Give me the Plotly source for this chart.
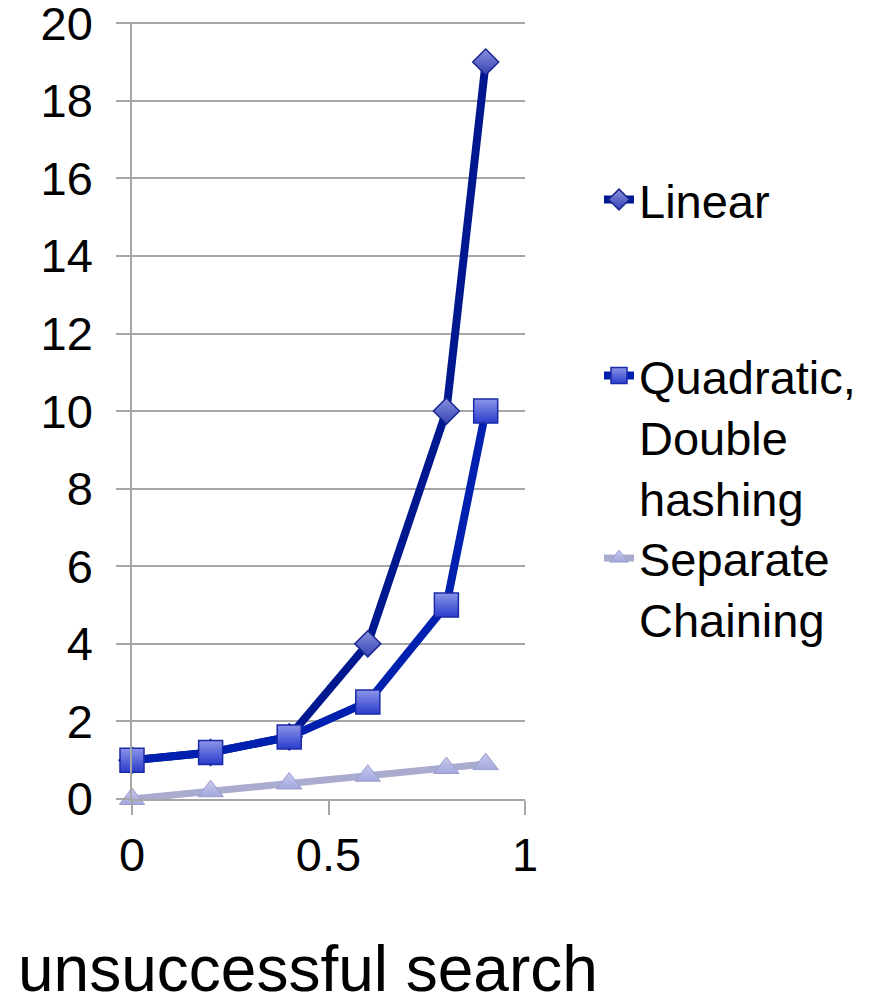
import plotly.graph_objects as go

load_factor = [0, 0.2, 0.4, 0.6, 0.8, 0.9]
linear = [1, 1.2, 1.6, 4, 10, 19]
quadratic = [1, 1.2, 1.6, 2.5, 5, 10]
separate = [0, 0.2, 0.4, 0.6, 0.8, 0.9]

names = ["Linear", "Quadratic,<br>Double<br>hashing", "Separate<br>Chaining"]
x_ticks = [0, 0.5, 1]
x_tick_text = ["0", "0.5", "1"]
y_ticks = [0, 2, 4, 6, 8, 10, 12, 14, 16, 18, 20]
title_text = "unsuccessful search"

FONT = "Liberation Sans, Arial, Helvetica, sans-serif"
OFF = 8  # page body margin
W, H = 872 - OFF, 997 - OFF
# plot area in screen pixels: x 132..525, y 22..799
L = 132 - OFF
T = 22 - OFF
R = W - (525 - OFF)
B = H - (799 - OFF)

fig = go.Figure()

fig.add_trace(go.Scatter(
    x=load_factor, y=linear, name=names[0], mode="lines+markers",
    line=dict(color="#00188f", width=8),
    marker=dict(symbol="diamond", size=20, color="#8a92dc",
                gradient=dict(type="vertical", color="#3442b4"),
                line=dict(color="#1a2590", width=1.5)),
    cliponaxis=False, legend="legend", showlegend=True,
))
fig.add_trace(go.Scatter(
    x=load_factor, y=quadratic, name=names[1], mode="lines+markers",
    line=dict(color="#0020b0", width=8),
    marker=dict(symbol="square", size=24, color="#8c95e8",
                gradient=dict(type="vertical", color="#2a3ccc"),
                line=dict(color="#1a2aa8", width=1.5)),
    cliponaxis=False, legend="legend2", showlegend=True,
))
fig.add_trace(go.Scatter(
    x=load_factor, y=separate, name=names[2], mode="lines+markers",
    line=dict(color="#a9abcf", width=7),
    marker=dict(symbol="triangle-up", size=22, color="#c8caf0",
                gradient=dict(type="vertical", color="#a4a7dc"),
                line=dict(color="#9a9dcc", width=1)),
    cliponaxis=False, legend="legend3", showlegend=True,
))

def py(screen):
    return 1 - (screen - OFF - T) / (H - T - B)

def px(screen):
    return (screen - OFF - L) / (W - L - R)

leg_common = dict(font=dict(family=FONT, size=47, color="#000000"),
                  bgcolor="rgba(0,0,0,0)", xanchor="left", yanchor="middle",
                  valign="top", itemwidth=30, visible=True)
LEGX = px(641 - 42)

fig.update_layout(
    width=W, height=H, showlegend=True,
    margin=dict(l=L, r=R, t=T, b=B, autoexpand=False),
    paper_bgcolor="white", plot_bgcolor="white",
    font=dict(family=FONT, size=47, color="#000000"),
    title=dict(text=title_text, font=dict(family=FONT, size=64, color="#000000"),
               x=(18 - OFF) / W, xanchor="left", xref="container",
               y=1 - (969 - OFF) / H, yanchor="middle", yref="container"),
    legend=dict(x=LEGX, y=py(200), **leg_common),
    legend2=dict(x=LEGX, y=py(437), **leg_common),
    legend3=dict(x=LEGX, y=py(589), **leg_common),
    xaxis=dict(range=[0, 1], tickmode="array", tickvals=x_ticks, ticktext=x_tick_text,
               showgrid=False, zeroline=False, showline=True,
               linecolor="#a6a6a6", linewidth=1.5,
               ticks="outside", ticklen=14, tickwidth=1.5, tickcolor="#a6a6a6",
               tickfont=dict(family=FONT, size=47, color="#000000")),
    yaxis=dict(range=[0, 20.03], tickmode="array", tickvals=y_ticks,
               showgrid=True, gridcolor="#a6a6a6",
               gridwidth=1.5, zeroline=False, showline=True,
               linecolor="#a6a6a6", linewidth=1.5,
               ticks="outside", ticklen=14, tickwidth=1.5, tickcolor="#a6a6a6",
               ticklabelstandoff=14, ticklabeloverflow="allow",
               tickfont=dict(family=FONT, size=47, color="#000000")),
)

fig.write_html("out.html")
